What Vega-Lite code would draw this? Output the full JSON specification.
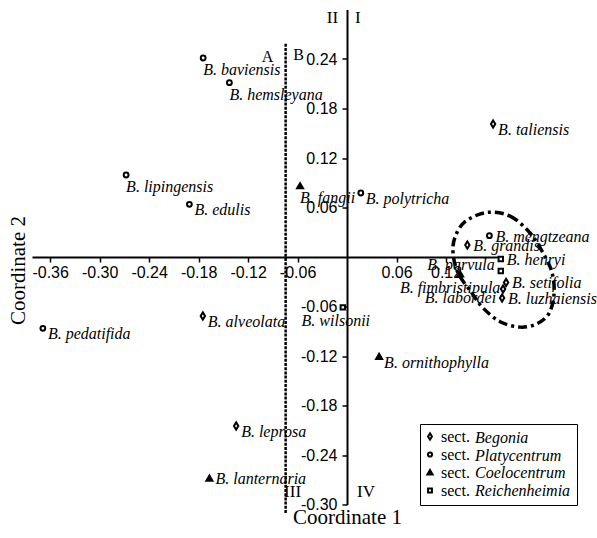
{
 "$schema": "https://vega.github.io/schema/vega-lite/v6.json",
 "width": 471, "height": 495,
 "autosize": {"type": "none"},
 "padding": {"left": 32, "top": 9.5, "right": 94, "bottom": 33.5},
 "background": "white",
 "config": {"view": {"stroke": null}},
 "datasets": {
  "species": [
   {"name": "B. baviensis", "sect": "Platycentrum", "x": -0.1745, "y": 0.2412},
   {"name": "B. hemsleyana", "sect": "Platycentrum", "x": -0.1427, "y": 0.2113},
   {"name": "B. taliensis", "sect": "Begonia", "x": 0.1770, "y": 0.1612},
   {"name": "B. lipingensis", "sect": "Platycentrum", "x": -0.2679, "y": 0.0994},
   {"name": "B. fangii", "sect": "Coelocentrum", "x": -0.0570, "y": 0.0861},
   {"name": "B. polytricha", "sect": "Platycentrum", "x": 0.0166, "y": 0.0776},
   {"name": "B. edulis", "sect": "Platycentrum", "x": -0.1912, "y": 0.0639},
   {"name": "B. mengtzeana", "sect": "Platycentrum", "x": 0.1725, "y": 0.0258},
   {"name": "B. grandis", "sect": "Begonia", "x": 0.1458, "y": 0.0145},
   {"name": "B. henryi", "sect": "Reichenheimia", "x": 0.1863, "y": -0.0024},
   {"name": "B. parvula", "sect": "Reichenheimia", "x": 0.1863, "y": -0.0170},
   {"name": "B. fimbristipula", "sect": "Coelocentrum", "x": 0.1370, "y": -0.0206},
   {"name": "B. setifolia", "sect": "Begonia", "x": 0.1927, "y": -0.0309},
   {"name": "B. labordei", "sect": "Begonia", "x": 0.1891, "y": -0.0388},
   {"name": "B. luzhaiensis", "sect": "Begonia", "x": 0.1879, "y": -0.0497},
   {"name": "B. wilsonii", "sect": "Reichenheimia", "x": -0.0052, "y": -0.0610},
   {"name": "B. alveolata", "sect": "Begonia", "x": -0.1749, "y": -0.0715},
   {"name": "B. pedatifida", "sect": "Platycentrum", "x": -0.3688, "y": -0.0864},
   {"name": "B. ornithophylla", "sect": "Coelocentrum", "x": 0.0388, "y": -0.1208},
   {"name": "B. leprosa", "sect": "Begonia", "x": -0.1345, "y": -0.2048},
   {"name": "B. lanternaria", "sect": "Coelocentrum", "x": -0.1669, "y": -0.2682}
  ],
  "ellipse": [
   {"i": 0, "x": 0.1693, "y": 0.0540},
   {"i": 1, "x": 0.1976, "y": 0.0495},
   {"i": 2, "x": 0.2218, "y": 0.0291},
   {"i": 3, "x": 0.2376, "y": 0.0048},
   {"i": 4, "x": 0.2481, "y": -0.0178},
   {"i": 5, "x": 0.2510, "y": -0.0436},
   {"i": 6, "x": 0.2450, "y": -0.0679},
   {"i": 7, "x": 0.2299, "y": -0.0810},
   {"i": 8, "x": 0.2097, "y": -0.0850},
   {"i": 9, "x": 0.1855, "y": -0.0784},
   {"i": 10, "x": 0.1648, "y": -0.0618},
   {"i": 11, "x": 0.1512, "y": -0.0436},
   {"i": 12, "x": 0.1345, "y": -0.0194},
   {"i": 13, "x": 0.1285, "y": 0.0048},
   {"i": 14, "x": 0.1309, "y": 0.0242},
   {"i": 15, "x": 0.1430, "y": 0.0428}
  ]
 },
 "layer": [
  {
   "data": {"name": "species"},
   "mark": {"type": "point", "filled": false, "opacity": 1, "strokeWidth": 2, "size": 64},
   "encoding": {
    "x": {"field": "x", "type": "quantitative",
     "scale": {"domain": [-0.382, 0.189], "nice": false, "zero": false},
     "axis": {"values": [-0.36, -0.30, -0.24, -0.18, -0.12, -0.06, 0.06, 0.12],
      "labelExpr": "(datum.value < 0 ? '-' : '') + format(abs(datum.value), '.2f')",
      "offset": -247.5, "grid": false,
      "domainColor": "black", "domainWidth": 2, "tickColor": "black", "tickWidth": 1.5, "tickSize": 5,
      "labelFont": "Liberation Sans", "labelFontSize": 16, "labelColor": "black", "labelPadding": 2,
      "labelFlush": false, "labelOverlap": false,
      "title": "Coordinate 1", "titleFont": "Liberation Serif", "titleFontSize": 21, "titleFontWeight": "normal",
      "titleColor": "black", "titleX": 315, "titleY": 260, "titleAlign": "center", "titleBaseline": "middle", "titleAngle": 0}},
    "y": {"field": "y", "type": "quantitative",
     "scale": {"domain": [-0.30, 0.30], "nice": false, "zero": false},
     "axis": {"values": [0.24, 0.18, 0.12, 0.06, -0.06, -0.12, -0.18, -0.24, -0.30],
      "labelExpr": "(datum.value < 0 ? '-' : '') + format(abs(datum.value), '.2f')",
      "offset": -315, "grid": false,
      "domainColor": "black", "domainWidth": 2, "tickColor": "black", "tickWidth": 1.5, "tickSize": 5,
      "labelFont": "Liberation Sans", "labelFontSize": 16, "labelColor": "black", "labelPadding": 5,
      "labelFlush": false, "labelOverlap": false,
      "title": "Coordinate 2", "titleFont": "Liberation Serif", "titleFontSize": 21, "titleFontWeight": "normal",
      "titleColor": "black", "titleX": -329, "titleY": 260.5, "titleAlign": "center", "titleBaseline": "middle", "titleAngle": 270}},
    "shape": {"field": "sect", "type": "nominal",
     "scale": {"domain": ["Begonia", "Platycentrum", "Coelocentrum", "Reichenheimia"],
      "range": ["M0,-0.9L0.55,0L0,0.9L-0.55,0Z", "M0.6,0A0.6,0.6,0,1,1,-0.6,0A0.6,0.6,0,1,1,0.6,0Z", "M0,-0.7L0.75,0.6L-0.75,0.6Z", "M-0.55,-0.55H0.55V0.55H-0.55Z"]},
     "legend": {"orient": "none", "legendX": 390, "legendY": 419, "title": null, "labelExpr": "'sect.'",
      "labelFont": "Liberation Serif", "labelFontSize": 16, "labelColor": "black",
      "symbolStrokeWidth": 2, "symbolSize": 49, "labelOffset": 3, "rowPadding": 2, "padding": 0}},
    "fill": {"field": "sect", "type": "nominal",
     "scale": {"domain": ["Begonia", "Platycentrum", "Coelocentrum", "Reichenheimia"], "range": ["white", "white", "black", "white"]},
     "legend": {"orient": "none", "legendX": 390, "legendY": 419, "title": null, "labelExpr": "'sect.'",
      "labelFont": "Liberation Serif", "labelFontSize": 16, "labelColor": "black",
      "symbolStrokeWidth": 2, "symbolSize": 49, "labelOffset": 3, "rowPadding": 2, "padding": 0}},
    "stroke": {"field": "sect", "type": "nominal",
     "scale": {"domain": ["Begonia", "Platycentrum", "Coelocentrum", "Reichenheimia"], "range": ["black", "black", "black", "black"]},
     "legend": {"orient": "none", "legendX": 390, "legendY": 419, "title": null, "labelExpr": "'sect.'",
      "labelFont": "Liberation Serif", "labelFontSize": 16, "labelColor": "black",
      "symbolStrokeWidth": 2, "symbolSize": 49, "labelOffset": 3, "rowPadding": 2, "padding": 0}}
   }
  },
  {
   "data": {"name": "species"},
   "mark": {"type": "point", "opacity": 0, "size": 1},
   "encoding": {
    "x": {"field": "x", "type": "quantitative"},
    "y": {"field": "y", "type": "quantitative"},
    "color": {"field": "sect", "type": "nominal",
     "sort": ["Begonia", "Platycentrum", "Coelocentrum", "Reichenheimia"],
     "scale": {"range": ["black", "black", "black", "black"]},
     "legend": {"orient": "none", "legendX": 388, "legendY": 414.5, "title": null,
      "labelFont": "Liberation Serif", "labelFontStyle": "italic", "labelFontSize": 16, "labelColor": "black",
      "symbolOpacity": 0, "symbolSize": 1, "labelOffset": 33, "rowPadding": 1.5, "padding": 6,
      "strokeColor": "black"}}
   }
  },
  {
   "data": {"name": "ellipse"},
   "mark": {"type": "line", "interpolate": "cardinal-closed", "strokeDash": [9, 4, 3, 4], "strokeWidth": 3.5, "color": "black"},
   "encoding": {
    "x": {"field": "x", "type": "quantitative", "scale": {"domain": [-0.382, 0.189], "nice": false, "zero": false}},
    "y": {"field": "y", "type": "quantitative", "scale": {"domain": [-0.30, 0.30], "nice": false, "zero": false}},
    "order": {"field": "i", "type": "quantitative"}
   }
  },
  {
   "data": {"values": [{}]},
   "mark": {"type": "rule", "strokeDash": [3, 1.2], "strokeWidth": 2.5, "color": "black"},
   "encoding": {
    "x": {"datum": -0.0745, "type": "quantitative"},
    "y": {"datum": -0.3103, "type": "quantitative"},
    "y2": {"datum": 0.2594}
   }
  },
  {
   "data": {"name": "species"},
   "transform": [{"filter": {"field": "name", "oneOf": ["B. edulis", "B. polytricha", "B. pedatifida", "B. alveolata", "B. taliensis", "B. leprosa", "B. ornithophylla"]}}],
   "mark": {"type": "text", "align": "left", "baseline": "middle", "dx": 5, "dy": 6, "font": "Liberation Serif", "fontStyle": "italic", "fontSize": 16, "color": "black"},
   "encoding": {"x": {"field": "x", "type": "quantitative"}, "y": {"field": "y", "type": "quantitative"}, "text": {"field": "name"}}
  },
  {
   "data": {"name": "species"},
   "transform": [{"filter": {"field": "name", "oneOf": ["B. baviensis", "B. lipingensis", "B. fangii", "B. hemsleyana"]}}],
   "mark": {"type": "text", "align": "left", "baseline": "middle", "dx": 0, "dy": 12, "font": "Liberation Serif", "fontStyle": "italic", "fontSize": 16, "color": "black"},
   "encoding": {"x": {"field": "x", "type": "quantitative"}, "y": {"field": "y", "type": "quantitative"}, "text": {"field": "name"}}
  },
  {
   "data": {"name": "species"},
   "transform": [{"filter": {"field": "name", "oneOf": ["B. mengtzeana", "B. grandis", "B. henryi", "B. setifolia", "B. luzhaiensis", "B. lanternaria"]}}],
   "mark": {"type": "text", "align": "left", "baseline": "middle", "dx": 6, "dy": 1, "font": "Liberation Serif", "fontStyle": "italic", "fontSize": 16, "color": "black"},
   "encoding": {"x": {"field": "x", "type": "quantitative"}, "y": {"field": "y", "type": "quantitative"}, "text": {"field": "name"}}
  },
  {
   "data": {"name": "species"},
   "transform": [{"filter": {"field": "name", "equal": "B. parvula"}}],
   "mark": {"type": "text", "align": "right", "baseline": "middle", "dx": -6, "dy": -6, "font": "Liberation Serif", "fontStyle": "italic", "fontSize": 16, "color": "black"},
   "encoding": {"x": {"field": "x", "type": "quantitative"}, "y": {"field": "y", "type": "quantitative"}, "text": {"field": "name"}}
  },
  {
   "data": {"name": "species"},
   "transform": [{"filter": {"field": "name", "equal": "B. labordei"}}],
   "mark": {"type": "text", "align": "right", "baseline": "middle", "dx": -7, "dy": 9, "font": "Liberation Serif", "fontStyle": "italic", "fontSize": 16, "color": "black"},
   "encoding": {"x": {"field": "x", "type": "quantitative"}, "y": {"field": "y", "type": "quantitative"}, "text": {"field": "name"}}
  },
  {
   "data": {"name": "species"},
   "transform": [{"filter": {"field": "name", "equal": "B. fimbristipula"}}],
   "mark": {"type": "text", "align": "center", "baseline": "middle", "dx": -10, "dy": 14, "font": "Liberation Serif", "fontStyle": "italic", "fontSize": 16, "color": "black"},
   "encoding": {"x": {"field": "x", "type": "quantitative"}, "y": {"field": "y", "type": "quantitative"}, "text": {"field": "name"}}
  },
  {
   "data": {"name": "species"},
   "transform": [{"filter": {"field": "name", "equal": "B. wilsonii"}}],
   "mark": {"type": "text", "align": "center", "baseline": "middle", "dx": -7, "dy": 14, "font": "Liberation Serif", "fontStyle": "italic", "fontSize": 16, "color": "black"},
   "encoding": {"x": {"field": "x", "type": "quantitative"}, "y": {"field": "y", "type": "quantitative"}, "text": {"field": "name"}}
  },
  {
   "data": {"values": [{}]},
   "mark": {"type": "text", "text": "II", "align": "right", "baseline": "middle", "font": "Liberation Serif", "fontSize": 17, "color": "black"},
   "encoding": {"x": {"datum": -0.0109, "type": "quantitative"}, "y": {"datum": 0.2897, "type": "quantitative"}}
  },
  {
   "data": {"values": [{}]},
   "mark": {"type": "text", "text": "I", "align": "left", "baseline": "middle", "font": "Liberation Serif", "fontSize": 17, "color": "black"},
   "encoding": {"x": {"datum": 0.0097, "type": "quantitative"}, "y": {"datum": 0.2897, "type": "quantitative"}}
  },
  {
   "data": {"values": [{}]},
   "mark": {"type": "text", "text": "A", "align": "center", "baseline": "middle", "font": "Liberation Serif", "fontSize": 16, "color": "black"},
   "encoding": {"x": {"datum": -0.0964, "type": "quantitative"}, "y": {"datum": 0.2424, "type": "quantitative"}}
  },
  {
   "data": {"values": [{}]},
   "mark": {"type": "text", "text": "B", "align": "center", "baseline": "middle", "font": "Liberation Serif", "fontSize": 16, "color": "black"},
   "encoding": {"x": {"datum": -0.0588, "type": "quantitative"}, "y": {"datum": 0.2448, "type": "quantitative"}}
  },
  {
   "data": {"values": [{}]},
   "mark": {"type": "text", "text": "III", "align": "center", "baseline": "middle", "font": "Liberation Serif", "fontSize": 17, "color": "black"},
   "encoding": {"x": {"datum": -0.0661, "type": "quantitative"}, "y": {"datum": -0.2845, "type": "quantitative"}}
  },
  {
   "data": {"values": [{}]},
   "mark": {"type": "text", "text": "IV", "align": "center", "baseline": "middle", "font": "Liberation Serif", "fontSize": 17, "color": "black"},
   "encoding": {"x": {"datum": 0.0230, "type": "quantitative"}, "y": {"datum": -0.2845, "type": "quantitative"}}
  }
 ]
}
